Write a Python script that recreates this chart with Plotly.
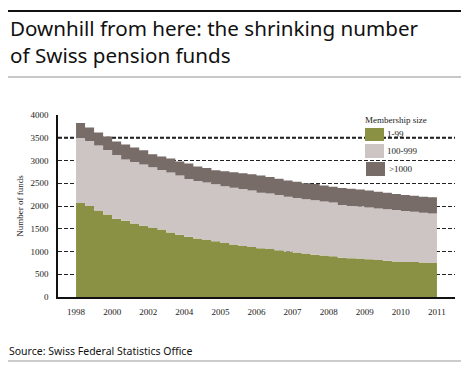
import plotly.graph_objects as go

# ---- data ----
year_labels = ["1998", "2000", "2002", "2004", "2005", "2006", "2007", "2008", "2009", "2010", "2011"]

# stepped series, one value per quarter-label interval (40 steps)
small_funds = [2066, 2000, 1901, 1813, 1721, 1677, 1615, 1565, 1525, 1486,
               1418, 1369, 1323, 1286, 1255, 1224, 1187, 1154, 1121, 1099,
               1073, 1055, 1026, 1000, 978, 954, 927, 912, 895, 864,
               853, 844, 829, 811, 798, 778, 771, 769, 760, 747]
mid_funds = [1429, 1429, 1429, 1418, 1400, 1345, 1352, 1347, 1326, 1305,
             1318, 1301, 1270, 1263, 1261, 1253, 1246, 1248, 1253, 1242,
             1219, 1220, 1216, 1202, 1198, 1195, 1198, 1187, 1182, 1158,
             1147, 1149, 1138, 1134, 1129, 1134, 1119, 1104, 1093, 1088]
large_funds = [329, 296, 285, 296, 297, 330, 319, 312, 285, 297,
               308, 308, 341, 319, 319, 308, 330, 339, 345, 356,
               378, 362, 356, 358, 358, 350, 359, 352, 345, 374,
               378, 370, 374, 367, 363, 352, 352, 351, 349, 356]

series_names = ["1-99", "100-999", ">1000"]
colors = ["#8A9145", "#CDC5C3", "#776C68"]

y_ticks = [0, 500, 1000, 1500, 2000, 2500, 3000, 3500, 4000]

# ---- layout geometry (page offset of 8px from the default body margin) ----
OFF = 8
W, H = 453, 355
PL, PR, PT, PB = 58, 455, 115, 297  # plot area in page pixels


def px(x):
    return (x - OFF) / W


def py(y):
    return 1 - (y - OFF) / H


n = len(small_funds)
step_x = [i * (len(year_labels) - 1) / n for i in range(n + 1)]

fig = go.Figure()
for name, vals, col in zip(series_names, [small_funds, mid_funds, large_funds], colors):
    fig.add_trace(go.Scatter(
        x=step_x, y=vals + [vals[-1]], name=name, mode="lines",
        stackgroup="one", line=dict(width=0, shape="hv"),
        fillcolor=col, showlegend=False, hoverinfo="x+y+name"))

# decorative rules (title and source separators) on a full-page overlay axis pair
rules = [(11, 2, "#111111"), (77, 2, "#c8c8c8"), (361, 1, "#999999")]
for ry, rw, rc in rules:
    fig.add_trace(go.Scatter(
        x=[8 - OFF, 461 - OFF], y=[ry - OFF, ry - OFF], xaxis="x2", yaxis="y2",
        mode="lines", line=dict(color=rc, width=rw), hoverinfo="skip", showlegend=False))

serif = "Liberation Serif"
sans = "Noto Sans"

fig.update_layout(
    width=W, height=H, margin=dict(l=0, r=0, t=0, b=0, pad=0),
    paper_bgcolor="white", plot_bgcolor="rgba(0,0,0,0)",
    showlegend=False,
    xaxis=dict(domain=[px(PL), px(PR)], automargin=False,
               range=[-0.5, len(year_labels) - 0.5], tickvals=list(range(len(year_labels))),
               ticktext=year_labels, showgrid=False, zeroline=False,
               showline=True, linecolor="#111", linewidth=1.5, ticks="",
               ticklabelstandoff=5,
               tickfont=dict(family=serif, size=9, color="#222")),
    yaxis=dict(domain=[py(PB), py(PT)], automargin=False,
               range=[0, 4000], tickvals=y_ticks, ticktext=[str(v) for v in y_ticks],
               showgrid=True, gridcolor="#222", gridwidth=1.2, griddash="4px,2px",
               zeroline=False, showline=True, linecolor="#111", linewidth=1.5,
               ticks="", ticklabelstandoff=6,
               tickfont=dict(family=serif, size=9, color="#222"),
               title=dict(text="Number of funds", standoff=5,
                          font=dict(family=serif, size=9, color="#222"))),
    xaxis2=dict(domain=[0, 1], range=[0, W], anchor="y2", visible=False, fixedrange=True),
    yaxis2=dict(domain=[0, 1], range=[H, 0], anchor="x2", visible=False, fixedrange=True),
)

shapes = []
# bold 3500 line
shapes.append(dict(type="line", xref="x domain", yref="y", x0=0, x1=1, y0=3500, y1=3500,
                   line=dict(color="#111", width=2.2, dash="4px,2px"), layer="below"))

annotations = []
# manual legend
legend_boxes = [(365, 128, 384, 141), (365, 144, 384, 158), (366, 162, 385, 176)]
legend_text_x = [385, 385, 387]
for (x0, y0, x1, y1), col, name, tx in zip(legend_boxes, colors, series_names, legend_text_x):
    shapes.append(dict(type="rect", xref="paper", yref="paper", x0=px(x0), x1=px(x1),
                       y0=py(y1), y1=py(y0), fillcolor=col, line=dict(width=0), layer="above"))
    annotations.append(dict(text=name, xref="paper", yref="paper", x=px(tx), y=py((y0 + y1) / 2),
                            xanchor="left", yanchor="middle", showarrow=False,
                            font=dict(family=serif, size=9, color="#222")))
annotations.append(dict(text="Membership size", xref="paper", yref="paper", x=px(363), y=py(120),
                        xanchor="left", yanchor="middle", showarrow=False,
                        font=dict(family=serif, size=9, color="#222")))

annotations.append(dict(text="Downhill from here: the shrinking number<br>of Swiss pension funds",
                        xref="paper", yref="paper", x=px(8), y=py(12), xanchor="left", yanchor="top",
                        align="left", showarrow=False,
                        font=dict(family=sans, size=20.6, color="#111")))
annotations.append(dict(text="Source: Swiss Federal Statistics Office", xref="paper", yref="paper",
                        x=px(7), y=py(351), xanchor="left", yanchor="middle", showarrow=False,
                        font=dict(family=sans, size=10.5, color="#111")))

fig.update_layout(shapes=shapes, annotations=annotations)
fig.write_html("out.html")
